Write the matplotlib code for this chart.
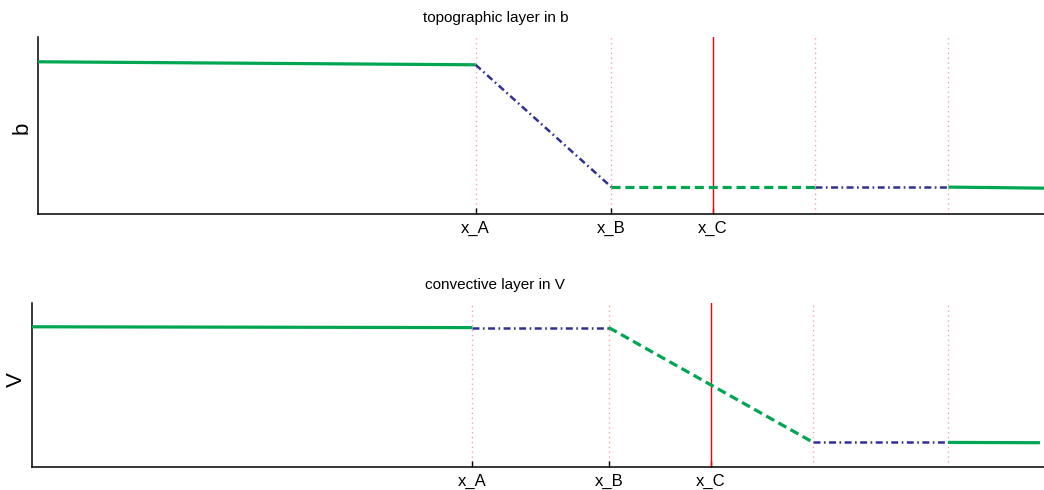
import matplotlib
matplotlib.use("Agg")
import matplotlib.pyplot as plt

plt.rcParams["font.family"] = ["Liberation Sans", "DejaVu Sans"]
plt.rcParams["lines.scale_dashes"] = False

# Break points along the channel (fraction of domain length)
x_A, x_B, x_C, x_D, x_E = 0.435, 0.570, 0.671, 0.772, 0.905
tick_pos = [x_A, x_B, x_C]
tick_labels = ["x_A", "x_B", "x_C"]
guide_pos = [x_A, x_B, x_D, x_E]

# Topographic layer: b along each segment
b_up_x = [0.0, x_A]
b_up = [0.860, 0.843]
b_slope_x = [x_A, x_B]
b_slope = [0.843, 0.152]
b_mid_x = [x_B, x_D]
b_mid = [0.152, 0.152]
b_flat_x = [x_D, x_E]
b_flat = [0.152, 0.152]
b_down_x = [x_E, 1.0]
b_down = [0.152, 0.146]

# Convective layer: V along each segment
v_up_x = [0.0, x_A]
v_up = [0.855, 0.850]
v_flat1_x = [x_A, x_B]
v_flat1 = [0.850, 0.850]
v_slope_x = [x_B, x_D]
v_slope = [0.850, 0.150]
v_flat2_x = [x_D, x_E]
v_flat2 = [0.150, 0.150]
v_down_x = [x_E, 0.996]
v_down = [0.150, 0.148]

GREEN = "#00a651"
BLUE = "#2e3192"
RED = "#ff0000"
PINK = "#f6a5a5"

W, H = 1044, 490
fig = plt.figure(figsize=(W / 100, H / 100), dpi=100)

def px_axes(left, top, right, bottom):
    return fig.add_axes([left / W, 1 - bottom / H, (right - left) / W, (bottom - top) / H])

solid = dict(color=GREEN, lw=2.3, solid_capstyle="butt")
dashed = dict(color=GREEN, lw=2.3, linestyle=(0, (6.5, 3.5)))
dashdot = dict(color=BLUE, lw=1.8, linestyle=(0, (5, 2.5, 1.2, 2.5)))

def style(ax, title, title_x):
    ax.set_xlim(0, 1)
    ax.set_ylim(0, 1)
    for s in ("top", "right"):
        ax.spines[s].set_visible(False)
    for s in ("left", "bottom"):
        ax.spines[s].set_linewidth(1.1)
    ax.set_yticks([])
    ax.set_xticks(tick_pos)
    ax.set_xticklabels(tick_labels, fontsize=12)
    ax.tick_params(axis="x", direction="in", length=4, width=1, pad=5)
    for gx in guide_pos:
        ax.axvline(gx, color=PINK, lw=1, linestyle=(0, (1, 2.5)), zorder=1)
    ax.axvline(x_C, color=RED, lw=1, zorder=2)
    ax.text(title_x, 1.07, title, transform=ax.transAxes, ha="center",
            va="bottom", fontsize=11)

# Upper panel: topographic layer
ax1 = px_axes(38, 37, 1044, 214)
ax1.plot(b_up_x, b_up, **solid, zorder=3)
ax1.plot(b_slope_x, b_slope, **dashdot, zorder=3)
ax1.plot(b_mid_x, b_mid, **dashed, zorder=3)
ax1.plot(b_flat_x, b_flat, **dashdot, zorder=3)
ax1.plot(b_down_x, b_down, **solid, zorder=3)
style(ax1, "topographic layer in b", 0.455)
fig.text(22 / W, 1 - 128 / H, "b", rotation=90, ha="center", va="center", fontsize=16)

# Lower panel: convective layer
ax2 = px_axes(32, 303, 1044, 467)
ax2.plot(v_up_x, v_up, **solid, zorder=3)
ax2.plot(v_flat1_x, v_flat1, **dashdot, zorder=3)
ax2.plot(v_slope_x, v_slope, **dashed, zorder=3)
ax2.plot(v_flat2_x, v_flat2, **dashdot, zorder=3)
ax2.plot(v_down_x, v_down, **solid, zorder=3)
style(ax2, "convective layer in V", 0.457)
fig.text(16 / W, 1 - 380 / H, "V", rotation=90, ha="center", va="center", fontsize=16)

fig.savefig("out.png", dpi=100, facecolor="white")
